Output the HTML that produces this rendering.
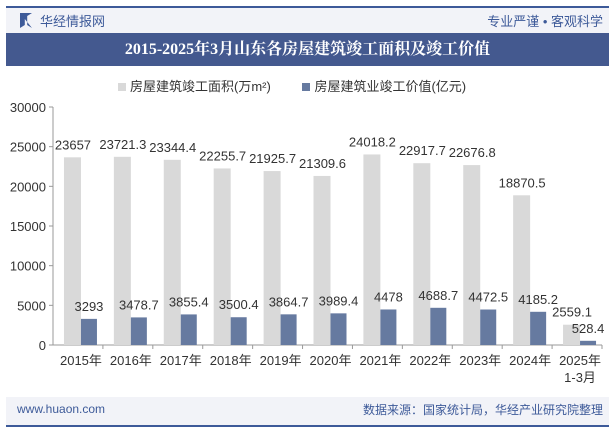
<!DOCTYPE html>
<html><head><meta charset="utf-8"><style>
body{margin:0;width:615px;height:427px;background:#fff;font-family:"Liberation Sans","Noto Sans CJK SC",sans-serif;overflow:hidden;position:relative}
.abs{position:absolute}
</style></head><body>
<div class="abs" style="left:6px;top:6px;width:603px;height:27px;background:#f2f3f8;border-top:2px solid #3d5a99"></div>
<div class="abs" style="left:20px;top:13px;width:12px;height:15px;background:#3d5a99;clip-path:polygon(0 0,40% 20%,40% 80%,0 100%,0 0,100% 0,60% 20%,60% 80%,100% 100%)"></div>
<div class="abs" style="left:40px;top:11px;font-size:13px;color:#3d5a99">华经情报网</div>
<div class="abs" style="right:12px;top:11px;font-size:13px;color:#3d5a99">专业严谨 • 客观科学</div>
<div class="abs" style="left:6px;top:33px;width:603px;height:33px;background:#44598f;color:#fff;font-family:'Liberation Serif','Noto Serif CJK SC',serif;font-weight:bold;font-size:16px;line-height:33px;text-align:center">2015-2025年3月山东各房屋建筑竣工面积及竣工价值</div>
<div class="abs" style="left:118px;top:76px;font-size:13px;color:#333;white-space:nowrap">
<span style="display:inline-block;width:8px;height:8px;background:#d9d9d9;margin-right:4px"></span>房屋建筑竣工面积(万m²)
<span style="display:inline-block;width:8px;height:8px;background:#667aa0;margin:0 4px 0 28px"></span>房屋建筑业竣工价值(亿元)</div>
<svg class="abs" style="left:0;top:0" width="615" height="427" id="chart"></svg>
<div class="abs" style="left:6px;top:397px;width:603px;height:28px;background:#f2f3f8;border-bottom:2px solid #3d5a99"></div>
<div class="abs" style="left:17px;top:402px;font-size:12px;color:#3d5a99">www.huaon.com</div>
<div class="abs" style="right:12px;top:401px;font-size:12px;color:#3d5a99">数据来源：国家统计局，华经产业研究院整理</div>
<script>
const categories=["2015年","2016年","2017年","2018年","2019年","2020年","2021年","2022年","2023年","2024年","2025年\n1-3月"];
const areaValues=[23657,23721.3,23344.4,22255.7,21925.7,21309.6,24018.2,22917.7,22676.8,18870.5,2559.1];
const valueValues=[3293,3478.7,3855.4,3500.4,3864.7,3989.4,4478,4688.7,4472.5,4185.2,528.4];
const yTicks=[0,5000,10000,15000,20000,25000,30000];
const svg=document.getElementById('chart');
const NS='http://www.w3.org/2000/svg';
const x0=53,x1=602,yTop=107,yBot=345,yMax=30000;
const bw=(x1-x0)/categories.length;
const yS=v=>yBot-(v/yMax)*(yBot-yTop);
const cx=i=>x0+bw*(i+0.5);
function mk(t,a){const e=document.createElementNS(NS,t);for(const k in a)e.setAttribute(k,a[k]);svg.appendChild(e);return e;}
let ax=mk('line',{x1:x0,y1:yTop,x2:x0,y2:yBot,stroke:'#999'});


let xa=mk('line',{x1:x0,y1:yBot,x2:x1,y2:yBot,stroke:'#999'});


yTicks.forEach(v=>{
 mk('line',{x1:x0-4,y1:yS(v),x2:x0,y2:yS(v),stroke:'#999'});
 const t=mk('text',{x:x0-7,y:yS(v)+5,'text-anchor':'end','font-size':13,fill:'#333'});t.textContent=v;
 
 
});
categories.forEach((c,i)=>{
 const c0=cx(i);
 mk('line',{x1:x0+bw*(i+1),y1:yBot,x2:x0+bw*(i+1),y2:yBot+4,stroke:'#999'});
 const g=mk('rect',{x:c0-14,y:yS(areaValues[i]),width:17,height:yBot-yS(areaValues[i]),fill:'#d9d9d9'});
 
 
 const b=mk('rect',{x:c0+3,y:yS(valueValues[i]),width:16,height:yBot-yS(valueValues[i]),fill:'#667aa0'});
 
 
 const l1=mk('text',{x:c0-5,y:yS(areaValues[i])-8,'text-anchor':'middle','font-size':13,fill:'#333'});l1.textContent=areaValues[i];
 
 
 const l2=mk('text',{x:c0+11,y:yS(valueValues[i])-8,'text-anchor':'middle','font-size':13,fill:'#333'});l2.textContent=valueValues[i];
 
 
 c.split('\n').forEach((s,j)=>{
  const t=mk('text',{x:c0+3,y:yBot+20+j*17,'text-anchor':'middle','font-size':13,fill:'#333'});t.textContent=s;
  
  
 });
});
</script>
</body></html>
